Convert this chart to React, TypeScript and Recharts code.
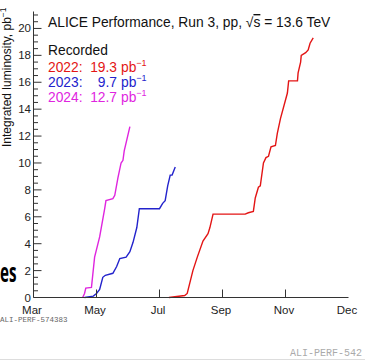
import { LineChart, Line, XAxis, YAxis } from 'recharts';

// integrated luminosity per year: [month position, pb^-1]
// month position runs 0..5 along the Mar, May, Jul, Sep, Nov, Dec ticks
const lumi2022: [number, number][] = [
  [2.15, 0], [2.4, 0.15], [2.44, 0.3], [2.53, 2.0], [2.6, 3.0], [2.69, 4.2],
  [2.77, 4.75], [2.8, 5.2], [2.85, 6.2], [3.36, 6.2], [3.41, 6.3], [3.49, 6.4],
  [3.52, 7.4], [3.57, 8.2], [3.6, 8.3], [3.65, 10.0], [3.69, 10.4], [3.73, 10.5],
  [3.77, 11.2], [3.84, 11.3], [3.87, 12.2], [3.92, 13.3], [4.03, 15.2], [4.05, 16.1],
  [4.19, 16.1], [4.2, 16.7], [4.24, 17.5], [4.25, 18.0], [4.32, 18.2], [4.36, 18.4],
  [4.39, 18.9], [4.44, 19.3],
];

const lumi2023: [number, number][] = [
  [0.81, 0], [0.95, 0.1], [1.0, 0.3], [1.05, 0.6], [1.1, 1.5], [1.14, 1.65],
  [1.26, 1.8], [1.32, 2.3], [1.37, 2.9], [1.47, 3.0], [1.53, 3.4], [1.58, 4.1],
  [1.64, 5.2], [1.68, 6.6], [2.0, 6.6], [2.05, 7.0], [2.09, 7.2], [2.13, 8.3],
  [2.17, 9.1], [2.2, 9.1], [2.25, 9.7],
];

const lumi2024: [number, number][] = [
  [0.78, 0], [0.81, 0.3], [0.83, 0.7], [0.92, 0.75], [0.97, 3.0], [1.05, 4.5],
  [1.13, 6.6], [1.15, 7.2], [1.26, 7.35], [1.29, 7.6], [1.34, 8.9], [1.39, 10.0],
  [1.42, 10.2], [1.44, 10.9], [1.53, 12.7],
];

const monthLabels = ['Mar', 'May', 'Jul', 'Sep', 'Nov', 'Dec'];
const majorYTicks = [0, 2, 4, 6, 8, 10, 12, 14, 16, 18, 20];

const W = 365;
const H = 361;
const FONT = '"Liberation Sans", Arial, Helvetica, sans-serif';
const FRAME = '#333';
const Y_GAP = 2.5;

const years = [
  { year: 2022, color: '#e31515', data: lumi2022 },
  { year: 2023, color: '#2323cc', data: lumi2023 },
  { year: 2024, color: '#df25df', data: lumi2024 },
];

const toPoints = (d: [number, number][]) => d.map(([x, y]) => ({ x, y }));

// major ticks every 2, minor ticks every 0.5
const yTicks: number[] = [];
for (let v = 0; v <= 21; v += 0.5) yTicks.push(v);

const YTick = (props: any) => {
  const { x, y, payload } = props;
  const v = payload.value as number;
  const major = majorYTicks.includes(v);
  const edge = x + Y_GAP;
  return (
    <g>
      <line x1={edge} x2={edge + (major ? 8 : 4.5)} y1={y} y2={y} stroke={FRAME} strokeWidth={1} />
      {major && (
        <text x={x} y={y} dy={4} textAnchor="end" fontSize={11.5} fontFamily={FONT} fill="#222">
          {v}
        </text>
      )}
    </g>
  );
};

const XTick = (props: any) => {
  const { x, y, payload, index } = props;
  const inner = index > 0 && index < monthLabels.length - 1;
  return (
    <g>
      {inner && <line x1={x} x2={x} y1={y} y2={y - 8} stroke={FRAME} strokeWidth={1} />}
      <text x={x - 1.5} y={y + 16} textAnchor="middle" fontSize={11.5} fontFamily={FONT} fill="#222">
        {monthLabels[payload.value]}
      </text>
    </g>
  );
};

export default function App() {
  return (
    <div style={{ position: 'absolute', left: 0, top: 0, width: W, height: H, background: '#fff', overflow: 'hidden' }}>
      <LineChart width={W} height={H} margin={{ top: 11.5, right: 16.5, bottom: 0, left: 0 }}>
        <XAxis
          dataKey="x"
          type="number"
          domain={[0, 5]}
          ticks={monthLabels.map((_, i) => i)}
          interval={0}
          height={63.5}
          tickSize={0}
          tickMargin={0}
          tickLine={false}
          axisLine={{ stroke: FRAME, strokeWidth: 1 }}
          tick={XTick}
        />
        <XAxis
          xAxisId="top"
          orientation="top"
          type="number"
          domain={[0, 5]}
          height={0}
          tick={false}
          tickLine={false}
          axisLine={{ stroke: FRAME, strokeWidth: 1 }}
        />
        <YAxis
          type="number"
          domain={[0, 21.26]}
          ticks={yTicks}
          interval={0}
          width={33.5}
          tickSize={0}
          tickMargin={Y_GAP}
          tickLine={false}
          axisLine={{ stroke: FRAME, strokeWidth: 1 }}
          tick={YTick}
        />
        <YAxis
          yAxisId="right"
          orientation="right"
          type="number"
          domain={[0, 21.26]}
          width={0}
          tick={false}
          tickLine={false}
          axisLine={{ stroke: FRAME, strokeWidth: 1 }}
        />
        {years.map(s => (
          <Line
            key={s.year}
            data={toPoints(s.data)}
            dataKey="y"
            type="linear"
            stroke={s.color}
            strokeWidth={1.4}
            dot={false}
            isAnimationActive={false}
          />
        ))}
      </LineChart>

      <svg
        width={W}
        height={H}
        style={{ position: 'absolute', left: 0, top: 0, pointerEvents: 'none' }}
        fontFamily={FONT}
      >
        <text x={48} y={27} fontSize={13.8} fill="#111">
          ALICE Performance, Run 3, pp, √<tspan style={{ textDecoration: 'overline' }}>s</tspan> = 13.6 TeV
        </text>
        <text x={48} y={55} fontSize={13.8} fill="#111">Recorded</text>
        {years.map((s, i) => {
          const total = s.data[s.data.length - 1][1];
          const y = 71.5 + i * 15;
          return (
            <g key={s.year} fill={s.color} fontSize={13.8}>
              <text x={48} y={y}>{s.year}:</text>
              <text x={117} y={y} textAnchor="end">{total.toFixed(1)}</text>
              <text x={121} y={y}>
                pb<tspan dy={-5.5} fontSize={9}>−1</tspan>
              </text>
            </g>
          );
        })}

        <text transform="translate(10.5,147) rotate(-90)" fontSize={12} fill="#111">
          Integrated luminosity, pb<tspan dy={-5} fontSize={8.5}>−1</tspan>
        </text>

        <text
          x={0}
          y={282}
          fontSize={26}
          fontWeight="bold"
          fontFamily='"Open Sans", "DejaVu Sans", sans-serif'
          fill="#000"
          textLength={16.5}
          lengthAdjust="spacingAndGlyphs"
        >
          es
        </text>
        <text x={0} y={321.7} fontSize={7.5} fontFamily='"Liberation Mono", monospace' fill="#666">
          ALI-PERF-574383
        </text>
        <text x={290} y={356} fontSize={10} fontFamily='"Liberation Mono", monospace' fill="#aaa">
          ALI-PERF-542
        </text>
        <line x1={0} x2={W} y1={359.5} y2={359.5} stroke="#ddd" strokeWidth={1} />
      </svg>
    </div>
  );
}
